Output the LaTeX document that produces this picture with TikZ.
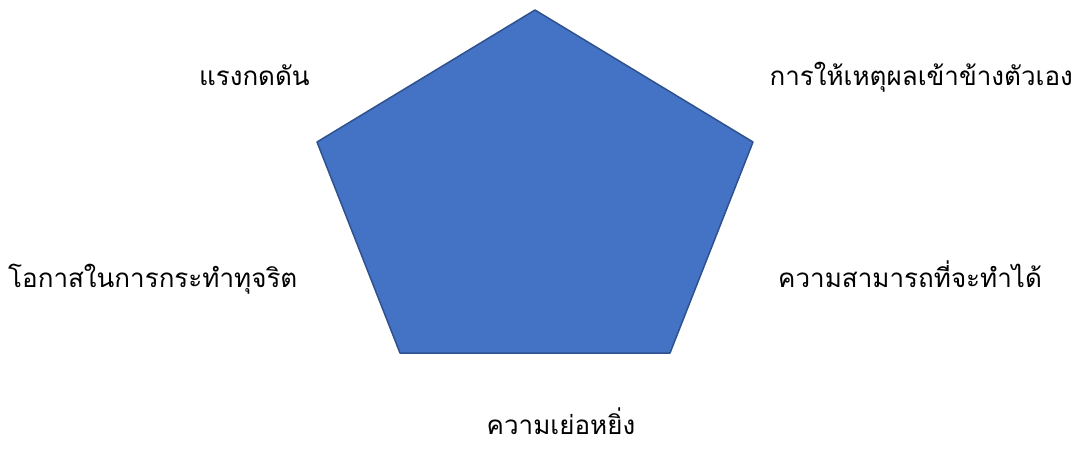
\documentclass[tikz,border=0pt]{standalone}
\usepackage{xcolor}
\usepackage{fontspec}
\newfontfamily\thaifont[Script=Thai]{Loma}
\usepackage{tikz}

\begin{document}
\begin{tikzpicture}[x=1pt,y=-1pt]
        \definecolor{relleno}{HTML}{4472C4}
        \definecolor{borde}{HTML}{2F528F}
        \tikzset{etiqueta/.style={font=\thaifont\fontsize{26}{30}\selectfont, inner sep=0pt}}
        \useasboundingbox (0,0) rectangle (1077,448);
        \coordinate (arriba) at (535,10);
        \coordinate (izqA) at (317,142);
        \coordinate (derA) at (753,142);
        \coordinate (derB) at (670,353);
        \coordinate (izqB) at (400,353);
        \fill[relleno] (arriba) -- (derA) -- (derB) -- (izqB) -- (izqA) -- cycle;
        \draw[borde, line width=1.5pt, line join=round] (arriba) -- (derA) -- (derB) -- (izqB) -- (izqA) -- cycle;
        \node[etiqueta, anchor=base east] (presion) at (310,85) {แรงกดดัน};
        \node[etiqueta, anchor=base east] (racional) at (1073,85) {การให้เหตุผลเข้าข้างตัวเอง};
        \node[etiqueta, anchor=base west] (oportunidad) at (8,287) {โอกาสในการกระทำทุจริต};
        \node[etiqueta, anchor=base west] (capacidad) at (778,287) {ความสามารถที่จะทำได้};
        \node[etiqueta, anchor=base] (arrogancia) at (561,434) {ความเย่อหยิ่ง};
    \end{tikzpicture}
\end{document}
